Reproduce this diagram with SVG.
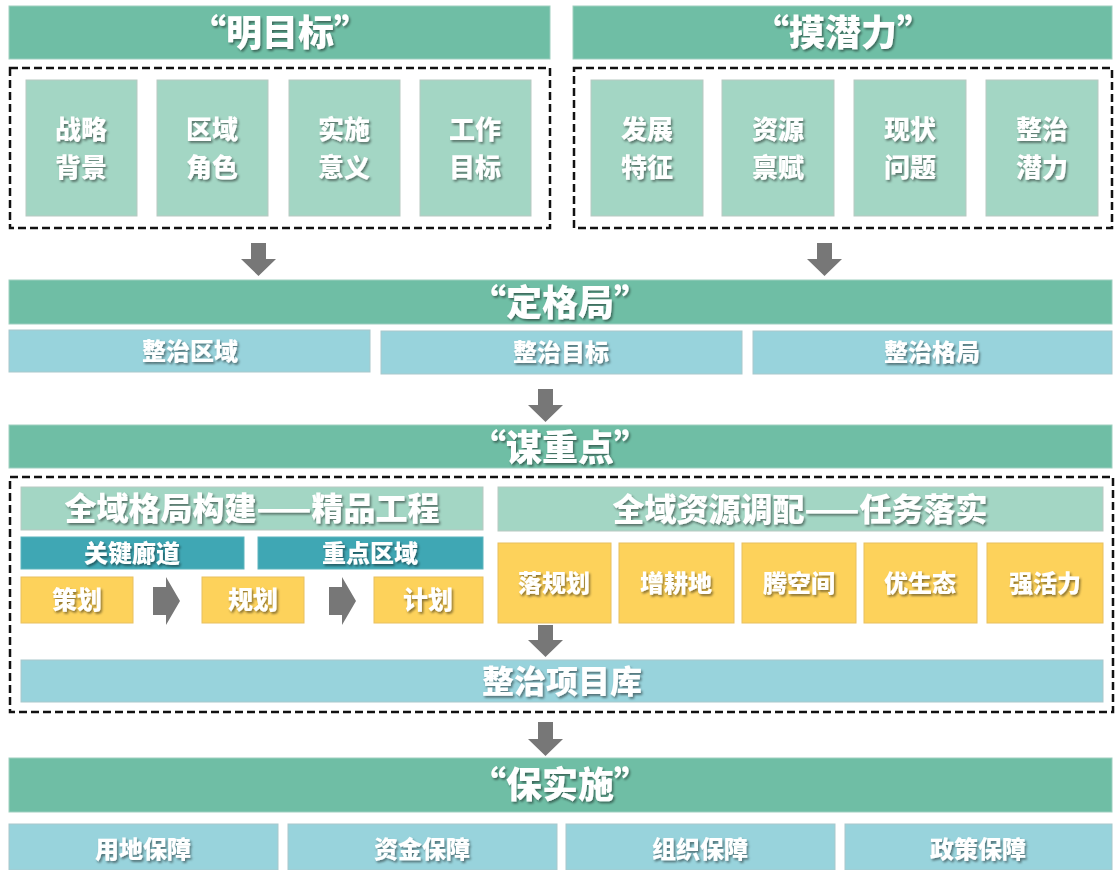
<svg xmlns="http://www.w3.org/2000/svg" width="1117" height="870" viewBox="0 0 1117 870">
<defs>
<filter id="sh" x="-10%" y="-20%" width="130%" height="150%">
<feDropShadow dx="1.5" dy="2" stdDeviation="1" flood-color="#000" flood-opacity="0.45"/>
</filter>
<style>
.hdr{fill:#6fbea5;stroke:#9fcfc0;stroke-width:1}
.card{fill:#a3d6c4;stroke:#b8c9c2;stroke-width:1}
.blue{fill:#98d3dc;stroke:#a9c8cc;stroke-width:1}
.teal{fill:#3fa7b4;stroke:#5fb4bd;stroke-width:1}
.yel{fill:#fdd25b;stroke:#e8c060;stroke-width:1}
.dash{fill:none;stroke:#111;stroke-width:2.5;stroke-dasharray:8 4}
.arr{fill:#777}
text{font-family:"Noto Sans CJK SC","Noto Sans",sans-serif;font-weight:900;fill:#fff;text-anchor:middle;filter:url(#sh)}
.t1{font-size:36px}
.t2{font-size:26px}
.t3{font-size:24px}
.t4{font-size:32px}
.t5{font-size:25px}
.t6{font-size:24px}
</style>
</defs>
<rect width="1117" height="870" fill="#fff"/>

<g id="g-mingmubiao">
<rect class="hdr" x="9" y="6" width="541" height="53"/>
<text class="t1" x="280" y="46">“明目标”</text>
</g>
<g id="g-moqianli">
<rect class="hdr" x="573" y="6" width="539" height="53"/>
<text class="t1" x="843" y="46">“摸潜力”</text>
</g>
<rect class="dash" x="10" y="68" width="540" height="160"/>
<rect class="dash" x="574" y="68" width="538" height="160"/>

<g id="n1"><rect class="card" x="26" y="80" width="111" height="136"/><text class="t2" x="81" y="139">战略</text><text class="t2" x="81" y="177">背景</text></g>
<g id="n2"><rect class="card" x="157" y="80" width="111" height="136"/><text class="t2" x="212" y="139">区域</text><text class="t2" x="212" y="177">角色</text></g>
<g id="n3"><rect class="card" x="289" y="80" width="111" height="136"/><text class="t2" x="344" y="139">实施</text><text class="t2" x="344" y="177">意义</text></g>
<g id="n4"><rect class="card" x="420" y="80" width="111" height="136"/><text class="t2" x="475" y="139">工作</text><text class="t2" x="475" y="177">目标</text></g>
<g id="n5"><rect class="card" x="591" y="80" width="112" height="136"/><text class="t2" x="647" y="139">发展</text><text class="t2" x="647" y="177">特征</text></g>
<g id="n6"><rect class="card" x="722" y="80" width="112" height="136"/><text class="t2" x="778" y="139">资源</text><text class="t2" x="778" y="177">禀赋</text></g>
<g id="n7"><rect class="card" x="854" y="80" width="112" height="136"/><text class="t2" x="910" y="139">现状</text><text class="t2" x="910" y="177">问题</text></g>
<g id="n8"><rect class="card" x="986" y="80" width="112" height="136"/><text class="t2" x="1042" y="139">整治</text><text class="t2" x="1042" y="177">潜力</text></g>

<g id="g-dinggeju">
<rect class="hdr" x="9" y="280" width="1103" height="44"/>
<text class="t1" x="560" y="316">“定格局”</text>
</g>
<g id="n9"><rect class="blue" x="9" y="330" width="361" height="42"/><text class="t3" x="190" y="360">整治区域</text></g>
<g id="n10"><rect class="blue" x="381" y="331" width="361" height="43"/><text class="t3" x="561" y="361">整治目标</text></g>
<g id="n11"><rect class="blue" x="753" y="331" width="359" height="43"/><text class="t3" x="932" y="361">整治格局</text></g>

<g id="g-mouzhongdian">
<rect class="hdr" x="9" y="425" width="1103" height="43"/>
<text class="t1" x="560" y="461">“谋重点”</text>
</g>
<rect class="dash" x="10" y="477" width="1103" height="235"/>
<g id="n12"><rect class="card" x="21" y="487" width="462" height="43"/><text class="t4" x="252" y="520">全域格局构建——精品工程</text></g>
<g id="n13"><rect class="card" x="498" y="487" width="605" height="44"/><text class="t4" x="800" y="521">全域资源调配——任务落实</text></g>
<g id="n14"><rect class="teal" x="21" y="537" width="223" height="32"/><text class="t3" x="132" y="562">关键廊道</text></g>
<g id="n15"><rect class="teal" x="258" y="537" width="225" height="32"/><text class="t3" x="370" y="562">重点区域</text></g>
<g id="n16"><rect class="yel" x="21" y="577" width="112" height="46"/><text class="t5" x="77" y="609">策划</text></g>
<g id="n17"><rect class="yel" x="202" y="577" width="102" height="46"/><text class="t5" x="253" y="609">规划</text></g>
<g id="n18"><rect class="yel" x="374" y="577" width="109" height="46"/><text class="t5" x="428" y="609">计划</text></g>
<g id="n19"><rect class="yel" x="498" y="543" width="113" height="80"/><text class="t3" x="554" y="592">落规划</text></g>
<g id="n20"><rect class="yel" x="619" y="543" width="115" height="80"/><text class="t3" x="676" y="592">增耕地</text></g>
<g id="n21"><rect class="yel" x="742" y="543" width="114" height="80"/><text class="t3" x="799" y="592">腾空间</text></g>
<g id="n22"><rect class="yel" x="864" y="543" width="113" height="80"/><text class="t3" x="920" y="592">优生态</text></g>
<g id="n23"><rect class="yel" x="987" y="543" width="116" height="80"/><text class="t3" x="1045" y="592">强活力</text></g>
<g id="n24"><rect class="blue" x="21" y="660" width="1082" height="42"/><text class="t4" x="562" y="693">整治项目库</text></g>

<g id="g-baoshishi">
<rect class="hdr" x="9" y="758" width="1103" height="54"/>
<text class="t1" x="560" y="798">“保实施”</text>
</g>
<g id="n25"><rect class="blue" x="9" y="824" width="269" height="46"/><text class="t6" x="143" y="858">用地保障</text></g>
<g id="n26"><rect class="blue" x="288" y="824" width="269" height="46"/><text class="t6" x="422" y="858">资金保障</text></g>
<g id="n27"><rect class="blue" x="566" y="824" width="269" height="46"/><text class="t6" x="700" y="858">组织保障</text></g>
<g id="n28"><rect class="blue" x="845" y="824" width="267" height="46"/><text class="t6" x="978" y="858">政策保障</text></g>

<g id="connectors">
<polygon class="arr" points="251,243 266,243 266,259 276,259 258.5,276 241,259 251,259"/>
<polygon class="arr" points="817,243 832,243 832,259 842,259 824.5,276 807,259 817,259"/>
<polygon class="arr" points="538,389 553,389 553,405 563,405 545.5,422 528,405 538,405"/>
<polygon class="arr" points="538,625 553,625 553,640 563,640 545.5,657 528,640 538,640"/>
<polygon class="arr" points="538,722 553,722 553,739 563,739 545.5,756 528,739 538,739"/>
<polygon class="arr" points="153,587 166,587 166,577 180,601 166,625 166,615 153,615"/>
<polygon class="arr" points="329,587 342,587 342,577 356,601 342,625 342,615 329,615"/>
</g>
</svg>
